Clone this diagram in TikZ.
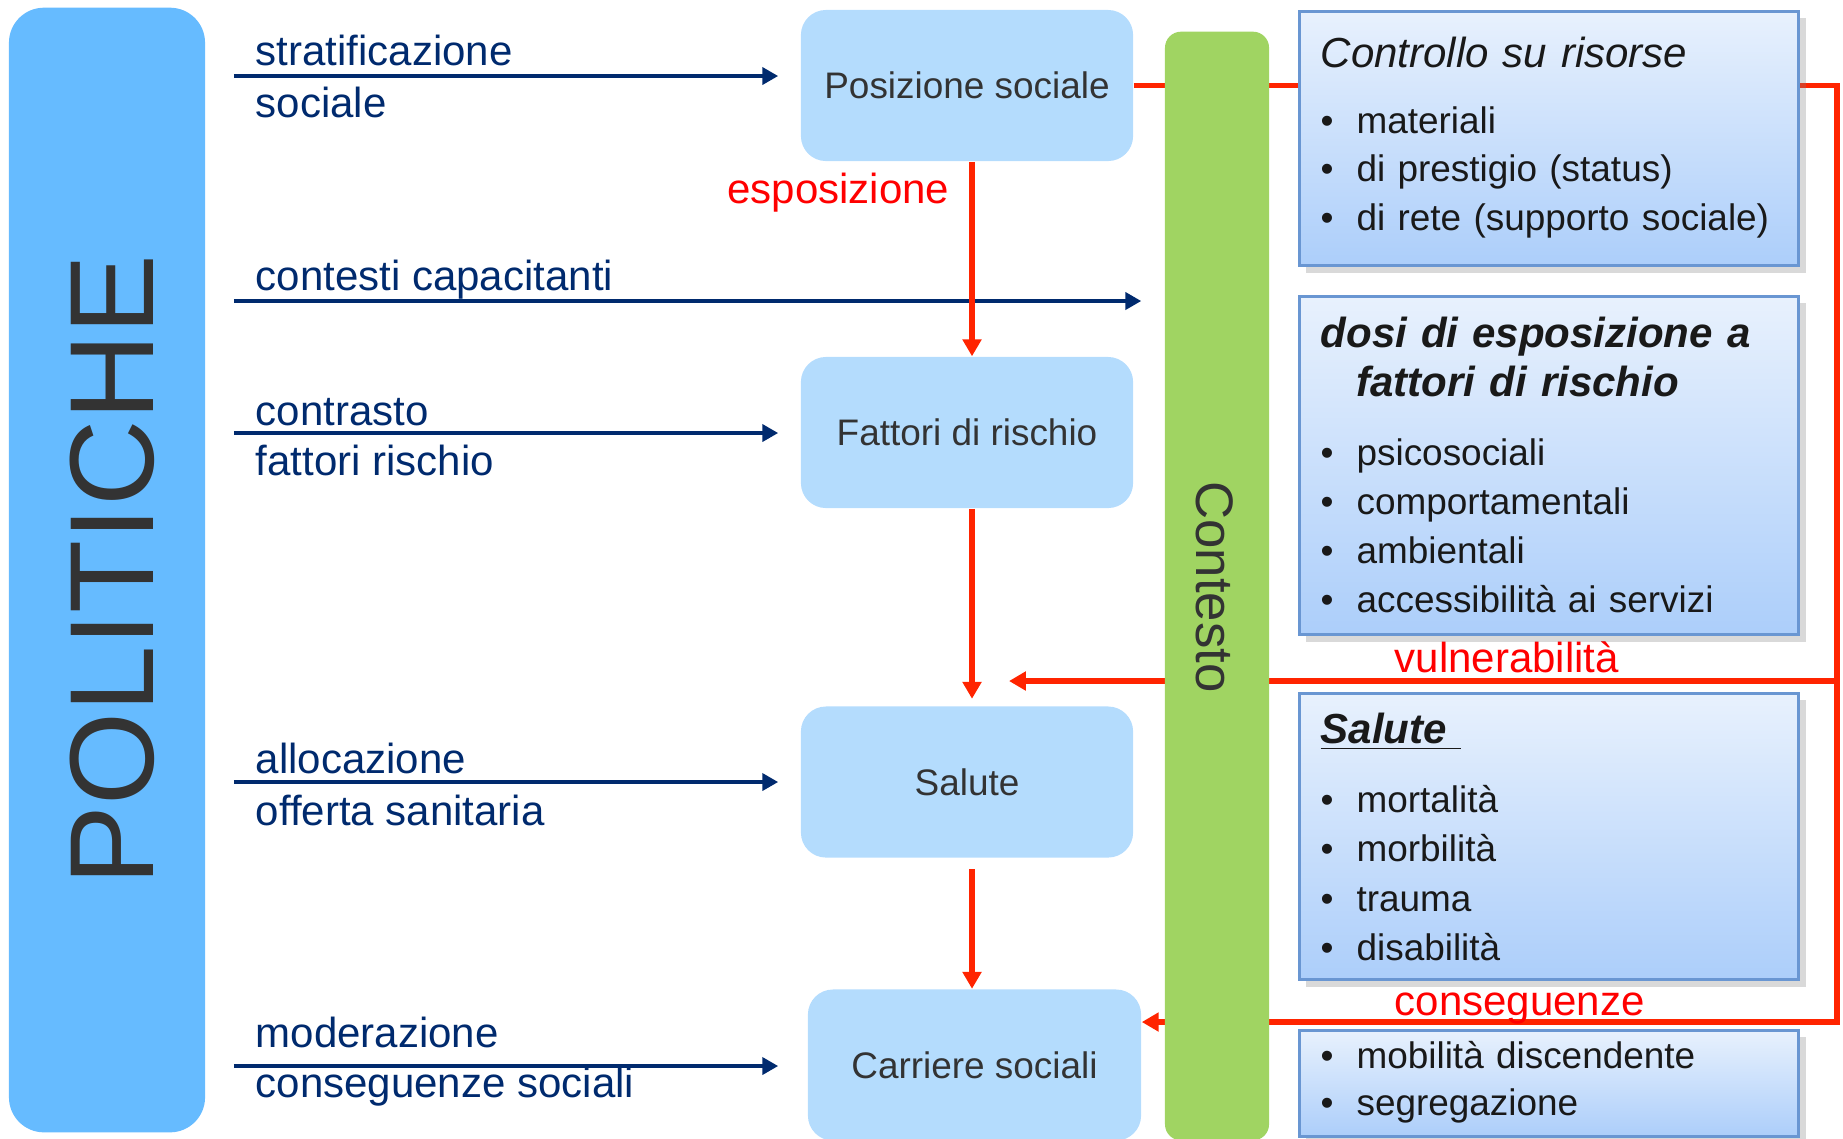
\documentclass[tikz,border=0pt]{standalone}
\usepackage{fontspec}
\setmainfont{Liberation Sans}
\usetikzlibrary{positioning, arrows.meta, shadows}
\definecolor{polblue}{RGB}{102,187,255}
\definecolor{stageblue}{RGB}{180,220,253}
\definecolor{ctxgreen}{RGB}{160,212,98}
\definecolor{navy}{RGB}{0,42,110}
\definecolor{redline}{RGB}{255,36,0}
\definecolor{darktext}{RGB}{51,51,51}
\definecolor{infoline}{RGB}{105,150,210}
\definecolor{infotop}{RGB}{232,241,253}
\definecolor{infobot}{RGB}{172,206,250}
\newcommand{\bul}{\makebox[10.2pt][l]{\textbullet}}
\tikzset{
  polbar/.style={
    rectangle, rounded corners=3.5mm,
    fill=polblue,
    minimum width=1.96cm, minimum height=11.24cm
  },
  ctxbar/.style={
    rectangle, rounded corners=1.6mm,
    fill=ctxgreen,
    minimum width=1.04cm, minimum height=11.08cm
  },
  stagebox/.style={
    rectangle, rounded corners=2.5mm,
    fill=stageblue, text=darktext,
    minimum width=3.32cm, minimum height=1.51cm,
    font=\fontsize{10.5}{12.6}\selectfont
  },
  infobox/.style={
    rectangle, draw=infoline, line width=0.8pt,
    top color=infotop, bottom color=infobot,
    drop shadow={shadow xshift=2pt, shadow yshift=-2pt, opacity=0.3},
    minimum width=4.99cm, anchor=north west, inner sep=0pt
  },
  poltext/.style={
    text=navy, anchor=base west, inner sep=0pt,
    font=\fontsize{11.95}{14.3}\selectfont
  },
  redtext/.style={
    text=red, inner sep=0pt,
    font=\fontsize{11.95}{14.3}\selectfont
  },
  infohead/.style={
    text=black!90, anchor=base west, inner sep=0pt,
    text width=4.7cm, align=left,
    font=\fontsize{11.95}{14.2}\selectfont\itshape
  },
  infohead-bold/.style={
    infohead,
    font=\fontsize{11.95}{14.2}\selectfont\bfseries\itshape
  },
  infolist/.style={
    text=black!90, anchor=base west, inner sep=0pt,
    text width=4.7cm, align=left,
    font=\fontsize{10.5}{#1}\selectfont
  },
  polarrow/.style={
    -{Triangle[length=4.5pt, width=4.8pt]}, draw=navy, line width=1.1pt,
    shorten <=2.8mm
  },
  redarrow/.style={
    -{Triangle[length=4.8pt, width=5.2pt]}, draw=redline, line width=1.5pt
  }
}

\begin{document}
\begin{tikzpicture}[x=0.01cm, y=-0.01cm]
  \useasboundingbox (0,0) rectangle (1843,1138);

  % rows of the policy arrows, red column, loop points
  \coordinate (row1) at (0,76);
  \coordinate (row2) at (0,301);
  \coordinate (row3) at (0,433);
  \coordinate (row4) at (0,782);
  \coordinate (row5) at (0,1066);
  \coordinate (redcol) at (972,0);
  \coordinate (vulR) at (1837,681);
  \coordinate (conR) at (1837,1022);
  \coordinate (vulTip) at (1009,681);

  \node[polbar] (pol) at (107,570) {};
  \node[rotate=90, text=darktext, font=\fontsize{34}{34}\selectfont] (poltitle) at (112,570) {POLITICHE};

  \node[stagebox] (pos) at (967,85.5) {Posizione sociale};
  \node[stagebox] (fat) at (967,432.5) {Fattori di rischio};
  \node[stagebox] (sal) at (967,782) {Salute};
  \node[stagebox, minimum width=3.33cm] (car) at (974.5,1065) {Carriere sociali};

  % feedback loop (behind bar and boxes)
  \draw[redarrow] (pos.east) -| (conR) -- (car.east |- conR);
  \draw[redarrow] (vulR) -- (vulTip);

  \node[ctxbar] (ctx) at (1217,586) {};
  \node[rotate=-90, text=darktext, font=\fontsize{15}{15}\selectfont] (ctxtitle) at (1215,587) {Contesto};

  % policies
  \draw[polarrow, shorten >=2.2mm] (pol.east |- row1) -- (pos.west |- row1);
  \draw[polarrow, shorten >=2.3mm] (pol.east |- row2) -- (ctx.west |- row2);
  \draw[polarrow, shorten >=2.2mm] (pol.east |- row3) -- (fat.west |- row3);
  \draw[polarrow, shorten >=2.2mm] (pol.east |- row4) -- (sal.west |- row4);
  \draw[polarrow, shorten >=2.9mm] (pol.east |- row5) -- (car.west |- row5);

  \node[poltext] (strat) at (255,65) {stratificazione};
  \node[poltext] (strat2) at (255,117) {sociale};
  \node[poltext] (capac) at (255,290) {contesti capacitanti};
  \node[poltext] (contr) at (255,425) {contrasto};
  \node[poltext] (contr2) at (255,475) {fattori rischio};
  \node[poltext] (alloc) at (255,773) {allocazione};
  \node[poltext] (alloc2) at (255,825) {offerta sanitaria};
  \node[poltext] (moder) at (255,1047) {moderazione};
  \node[poltext] (moder2) at (255,1097) {conseguenze sociali};

  % main chain
  \draw[redarrow] (pos.south -| redcol) -- (fat.north -| redcol);
  \draw[redarrow, shorten >=0.7mm] (fat.south -| redcol) -- (sal.north -| redcol);
  \draw[redarrow, shorten <=1.1mm] (sal.south -| redcol) -- (car.north -| redcol);

  \node[redtext, anchor=base east] (expo) at (950,203) {esposizione};
  \node[redtext, anchor=base west] (vuln) at (1394,672) {vulnerabilità};
  \node[redtext, anchor=base west] (conseq) at (1394,1015) {conseguenze};

  % right column
  \node[infobox, minimum height=2.54cm] (risorse) at (1298,10) {};
  \node[infohead] (risorsehd) at (1320,67) {Controllo su risorse};
  \node[infolist=13.8pt] (risorselst) at (1320,133) {\bul materiali\\\bul di prestigio (status)\\\bul di rete (supporto sociale)};

  \node[infobox, minimum height=3.38cm] (dosi) at (1298,295) {};
  \node[infohead-bold] (dosihd) at (1320,347) {dosi di esposizione a\\\hspace*{10.2pt}fattori di rischio};
  \node[infolist=14pt] (dosilst) at (1320,465) {\bul psicosociali\\\bul comportamentali\\\bul ambientali\\\bul accessibilità ai servizi};

  \node[infobox, minimum height=2.86cm] (esiti) at (1298,692) {};
  \node[infohead-bold] (esitihd) at (1320,743) {\underline{Salute\ }};
  \node[infolist=14.1pt] (esitilst) at (1320,812) {\bul mortalità\\\bul morbilità\\\bul trauma\\\bul disabilità};

  \node[infobox, minimum height=1.06cm] (carriere) at (1298,1029) {};
  \node[infolist=13.4pt] (carrierelst) at (1320,1068) {\bul mobilità discendente\\\bul segregazione};
\end{tikzpicture}
\end{document}
